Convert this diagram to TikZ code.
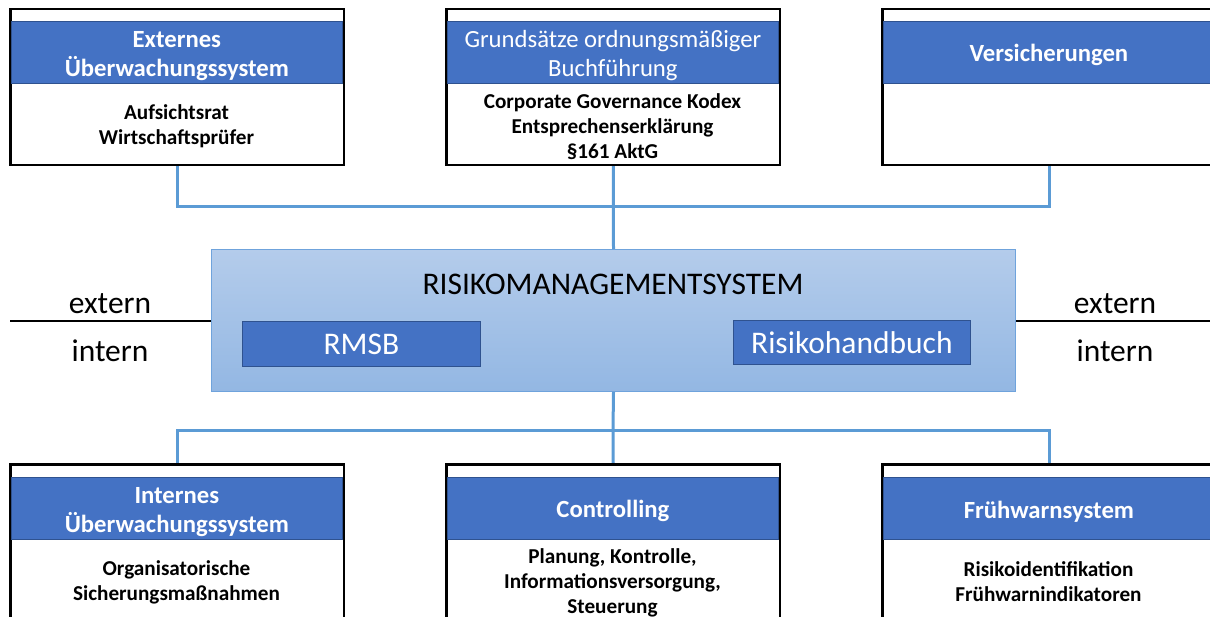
\documentclass[tikz,border=0pt]{standalone}
\usepackage{fontspec}
\setmainfont{Carlito}
\definecolor{hdr}{HTML}{4472C4}
\definecolor{hdrline}{HTML}{2F528F}
\definecolor{conncol}{HTML}{5B9BD5}
\definecolor{rmstop}{HTML}{B4CCEB}
\definecolor{rmsbot}{HTML}{93B7E3}
\definecolor{rmsline}{HTML}{6FA3DC}
\begin{document}
\begin{tikzpicture}[x=1pt,y=-1pt,
  outerbox/.style={draw=black, line width=1.5pt, fill=white, minimum width=333pt, inner sep=0pt, anchor=north west},
  hdrbox/.style={fill=hdr, draw=hdrline, line width=0.8pt, minimum width=331pt, minimum height=62pt, inner sep=0pt, anchor=north west},
  hdrtxt/.style={text=white, align=center, font=\bfseries\fontsize{24.7}{29}\selectfont},
  hdrtxtn/.style={text=white, align=center, font=\fontsize{24.7}{29}\selectfont},
  bodytxt/.style={text=black, align=center, font=\bfseries\fontsize{21.2}{25}\selectfont},
  conn/.style={draw=conncol, line width=3pt},
  sepline/.style={draw=black, line width=2pt},
  bigtxt/.style={font=\fontsize{31.5}{36}\selectfont, inner sep=0pt},
  innerbox/.style={fill=hdr, draw=hdrline, line width=0.8pt, inner sep=0pt, minimum height=45pt, minimum width=238pt, text=white, font=\fontsize{31.5}{36}\selectfont}
]
\useasboundingbox (0,0) rectangle (1210,617);
\clip (0,0) rectangle (1210,617);
% junction points
\coordinate (jt) at (613,207);
\coordinate (jb) at (613,430);
% top boxes
\node[outerbox, minimum height=155pt] (b1) at (10,9) {};
\node[outerbox, minimum height=155pt] (b2) at (446,9) {};
\node[outerbox, minimum height=155pt] (b3) at (882,9) {};
% bottom boxes
\node[outerbox, minimum height=158pt] (c1) at (10,464) {};
\node[outerbox, minimum height=158pt] (c2) at (446,464) {};
\node[outerbox, minimum height=158pt] (c3) at (882,464) {};
% RMS
\node[draw=rmsline, line width=1pt, top color=rmstop, bottom color=rmsbot, minimum width=804pt, minimum height=142pt, inner sep=0pt, anchor=north west] (rms) at (211,249) {};
\draw[conn] (b1.south) |- (jt) -| (b3.south);
\draw[conn] (b2.south) -- (rms.north);
\draw[conn] (rms.south) -- (jb);
\draw[conn] (c1.north) |- (jb) -| (c3.north);
\draw[conn] (jb) -- (c2.north);
% headers
\node[hdrbox] (h1) at (11,21) {};
\node[hdrbox] (h2) at (447,21) {};
\node[hdrbox] (h3) at (883,21) {};
\node[hdrbox] (g1) at (11,477) {};
\node[hdrbox] (g2) at (447,477) {};
\node[hdrbox] (g3) at (883,477) {};
\foreach \n in {b1,b2,b3,c1,c2,c3}{\draw[black, line width=1.5pt] (\n.north west) rectangle (\n.south east);}
% header texts
\node[hdrtxt] (ht1) at ([yshift=-4pt]h1.center) {Externes\\Überwachungssystem};
\node[hdrtxtn] (ht2) at ([yshift=-3pt]h2.center) {Grundsätze ordnungsmäßiger\\Buchführung};
\node[hdrtxt] (ht3) at ([yshift=-3pt]h3.center) {Versicherungen};
\node[hdrtxt] (gt1) at ([yshift=-4pt]g1.center) {Internes\\Überwachungssystem};
\node[hdrtxt] (gt2) at ([yshift=-3pt]g2.center) {Controlling};
\node[hdrtxt] (gt3) at ([yshift=-3pt]g3.center) {Frühwarnsystem};
% body texts
\node[bodytxt] (bt1) at (176.5,126.5) {Aufsichtsrat\\Wirtschaftsprüfer};
\node[bodytxt] (bt2) at (612.5,126.5) {Corporate Governance Kodex\\Entsprechenserklärung\\§161 AktG};
\node[bodytxt] (dt1) at (176.5,582) {Organisatorische\\Sicherungsmaßnahmen};
\node[bodytxt] (dt2) at (612.5,582.5) {Planung, Kontrolle,\\Informationsversorgung,\\Steuerung};
\node[bodytxt] (dt3) at (1048.5,582) {Risikoidentifikation\\Frühwarnindikatoren};
% RMS contents
\node[bigtxt] (rmst) at (613,284) {RISIKOMANAGEMENTSYSTEM};
\node[innerbox, anchor=north west] (rmsb) at (242,321) {RMSB};
\node[innerbox, anchor=north west, minimum width=237pt, minimum height=44pt] (rhb) at (733,320) {Risikohandbuch};
% extern / intern
\coordinate (ll) at (10,321);
\coordinate (rr) at (1210,321);
\draw[sepline] (ll) -- (rms.west |- ll);
\draw[sepline] (rms.east |- rr) -- (rr);
\node[bigtxt] (ex1) at (110,304) {extern};
\node[bigtxt] (in1) at (110,351) {intern};
\node[bigtxt] (ex2) at (1115,304) {extern};
\node[bigtxt] (in2) at (1115,351) {intern};
\end{tikzpicture}
\end{document}
